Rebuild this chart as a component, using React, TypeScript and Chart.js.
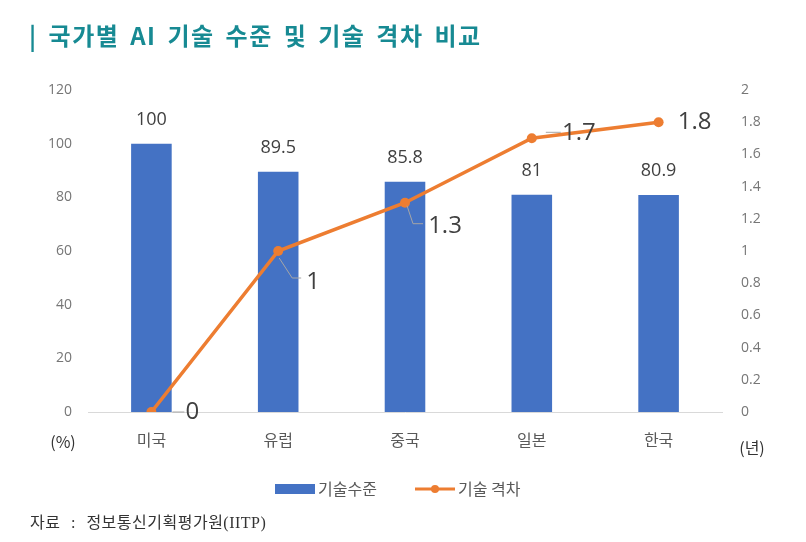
import React, { useEffect, useRef } from "react";
import { Chart, registerables } from "chart.js";

Chart.register(...registerables);

const categories = ["미국", "유럽", "중국", "일본", "한국"];
const techLevel = [100, 89.5, 85.8, 81, 80.9];
const techGap = [0, 1, 1.3, 1.7, 1.8];
const leftAxis = { min: 0, max: 120, step: 20 };
const rightAxis = { min: 0, max: 2, step: 0.2 };
const seriesNames = ["기술수준", "기술 격차"];

const BAR_COLOR = "#4472C4";
const LINE_COLOR = "#ED7D31";
const NUM_FONT = "'Open Sans', 'Noto Sans CJK KR', sans-serif";
const KR_FONT = "'Noto Sans CJK KR', 'Noto Sans', sans-serif";

// label placement relative to each line point (style only)
const gapLabelOffsets = [
  { dx: 41, dy: 0, leader: [[21, 0], [33, 0]] },
  { dx: 35, dy: 31, leader: [[1, 7], [14, 27], [23, 27]] },
  { dx: 40, dy: 23, leader: [[2, 3], [8, 21], [18, 21]] },
  { dx: 47, dy: -5, leader: [[14, -6], [29, -6]] },
  { dx: 36, dy: 0, leader: [] as number[][] },
];

const labelPlugin = {
  id: "labels",
  afterDatasetsDraw(chart: any) {
    const ctx = chart.ctx as CanvasRenderingContext2D;
    ctx.save();
    const barMeta = chart.getDatasetMeta(0);
    ctx.font = `18px ${NUM_FONT}`;
    ctx.fillStyle = "#404040";
    ctx.textAlign = "center";
    ctx.textBaseline = "middle";
    barMeta.data.forEach((el: any, i: number) => {
      ctx.fillText(String(techLevel[i]), el.x, el.y - 24);
    });
    const lineMeta = chart.getDatasetMeta(1);
    lineMeta.data.forEach((el: any, i: number) => {
      const o = gapLabelOffsets[i];
      if (o.leader.length > 1) {
        ctx.beginPath();
        ctx.strokeStyle = "#a6a6a6";
        ctx.lineWidth = 1;
        o.leader.forEach((p, k) => {
          if (k === 0) ctx.moveTo(el.x + p[0], el.y + p[1]);
          else ctx.lineTo(el.x + p[0], el.y + p[1]);
        });
        ctx.stroke();
      }
      ctx.font = `24px ${NUM_FONT}`;
      ctx.fillStyle = "#404040";
      ctx.fillText(String(techGap[i]), el.x + o.dx, el.y + o.dy);
    });
    ctx.restore();
  },
  afterDraw(chart: any) {
    const ctx = chart.ctx as CanvasRenderingContext2D;
    const area = chart.chartArea;
    ctx.save();
    ctx.textBaseline = "middle";
    ctx.font = `16px ${KR_FONT}`;
    ctx.fillStyle = "#333333";
    ctx.textAlign = "center";
    ctx.fillText("(%)", 63, area.bottom + 30);
    ctx.fillText("(년)", 752, area.bottom + 36);
    const ly = area.bottom + 77;
    ctx.fillStyle = BAR_COLOR;
    ctx.fillRect(275, ly - 5, 40, 10);
    ctx.font = `16px ${KR_FONT}`;
    ctx.fillStyle = "#595959";
    ctx.textAlign = "left";
    ctx.fillText(seriesNames[0], 318, ly);
    ctx.strokeStyle = LINE_COLOR;
    ctx.lineWidth = 3;
    ctx.beginPath();
    ctx.moveTo(415, ly);
    ctx.lineTo(455, ly);
    ctx.stroke();
    ctx.fillStyle = LINE_COLOR;
    ctx.beginPath();
    ctx.arc(435, ly, 4, 0, Math.PI * 2);
    ctx.fill();
    ctx.fillStyle = "#595959";
    ctx.fillText(seriesNames[1], 458, ly);
    ctx.restore();
  },
};

export default function App() {
  const ref = useRef<HTMLCanvasElement>(null);
  useEffect(() => {
    if (!ref.current) return;
    const chart = new Chart(ref.current, {
      data: {
        labels: categories,
        datasets: [
          {
            type: "bar",
            label: seriesNames[0],
            data: techLevel,
            backgroundColor: BAR_COLOR,
            yAxisID: "y",
            barPercentage: 0.4,
            categoryPercentage: 0.8,
            order: 2,
          },
          {
            type: "line",
            label: seriesNames[1],
            data: techGap,
            borderColor: LINE_COLOR,
            backgroundColor: LINE_COLOR,
            borderWidth: 3.5,
            pointRadius: 5,
            pointBackgroundColor: LINE_COLOR,
            pointBorderWidth: 0,
            yAxisID: "y1",
            order: 1,
            tension: 0,
          },
        ],
      } as any,
      options: {
        responsive: false,
        animation: false,
        layout: { padding: { top: 90, bottom: 90, left: 0, right: 0 } },
        plugins: {
          legend: { display: false },
          tooltip: { enabled: false },
          title: { display: false },
        },
        scales: {
          x: {
            grid: { display: false, drawTicks: false },
            border: { display: true, color: "#d9d9d9", width: 1 },
            ticks: {
              color: "#595959",
              font: { size: 16, family: KR_FONT },
              padding: 18,
            },
            afterFit: (s: any) => {
              s.height = 40;
            },
          },
          y: {
            position: "left",
            min: leftAxis.min,
            max: leftAxis.max,
            grid: { display: false, drawTicks: false },
            border: { display: false },
            ticks: {
              stepSize: leftAxis.step,
              color: "#767676",
              font: { size: 14, family: NUM_FONT },
              padding: 16,
            },
            afterFit: (s: any) => {
              s.width = 88;
            },
          },
          y1: {
            position: "right",
            min: rightAxis.min,
            max: rightAxis.max,
            grid: { display: false, drawTicks: false },
            border: { display: false },
            ticks: {
              stepSize: rightAxis.step,
              color: "#767676",
              font: { size: 14, family: NUM_FONT },
              padding: 19,
              callback: (v: any) => String(Number(Number(v).toFixed(1))),
            },
            afterFit: (s: any) => {
              s.width = 84;
            },
          },
        },
      } as any,
      plugins: [labelPlugin],
    });
    return () => chart.destroy();
  }, []);

  return (
    <div style={{ position: "absolute", left: 0, top: 0, width: 806, height: 542, background: "#fff", overflow: "hidden" }}>
      <canvas ref={ref} width={806} height={542} style={{ position: "absolute", left: 0, top: 0 }} />
      <div
        style={{
          position: "absolute",
          left: 29,
          top: 17,
          fontFamily: KR_FONT,
          fontWeight: 700,
          fontSize: 24,
          color: "#178A93",
          letterSpacing: 1.5,
          wordSpacing: 4,
          whiteSpace: "nowrap",
          lineHeight: "36px",
        }}
      >
        | 국가별 AI 기술 수준 및 기술 격차 비교
      </div>
      <div
        style={{
          position: "absolute",
          left: 30,
          top: 512,
          fontFamily: "'Liberation Serif', 'Noto Sans CJK KR', serif",
          fontSize: 16,
          color: "#333333",
          whiteSpace: "nowrap",
          lineHeight: "22px",
          wordSpacing: 6,
          letterSpacing: 0.5,
        }}
      >
        자료 : 정보통신기획평가원(IITP)
      </div>
    </div>
  );
}
